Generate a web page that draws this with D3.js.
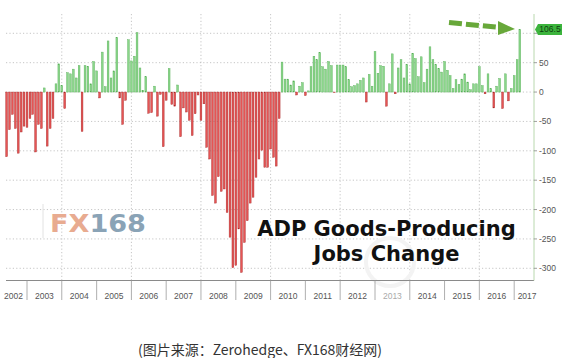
<!DOCTYPE html>
<html><head><meta charset="utf-8">
<script src="https://cdn.jsdelivr.net/npm/d3@7/dist/d3.min.js"></script>
<style>html,body{margin:0;padding:0;background:#fff;}svg{display:block}</style>
</head><body>
<svg id="c" width="568" height="358"></svg>
<script>
// ---- data (thousands, monthly, May 2002 .. Feb 2017) ----
const firstMonth = "2002-05";
const jobsChange = [
  -110, -64, -38, -62, -104, -68, -58, -60,
  -45, -38, -102, -55, -62, 7, -92, -62, -45, 14, 48, 11,
  -28, 33, 31, 39, 24, 45, -67, 45, 44, 14, 52, 36,
  -10, 68, 9, 87, 24, 36, 93, -10, -55, -14, 89, 53,
  61, 101, 41, 3, 26, -36, -35, 10, -41, -4, -93, -14,
  40, -21, -24, 12, -76, -27, -34, -48, -74, -37, -5, -48,
  -20, -94, -114, -176, -189, -144, -169, -165, -205, -247, -299, -295,
  -233, -307, -256, -219, -189, -179, -145, -114, -99, -128, -128, -97,
  -111, -126, -45, 51, 22, 22, 12, 19, -5, 10, 16, -6,
  2, 43, 61, 55, 67, 43, 39, 52, 45, -1, 46, 46,
  46, 43, 21, 9, 11, 14, 20, 24, -17, 30, 10, 69,
  32, 45, 44, -24, 14, 65, -3, 41, 55, 24, 47, 14,
  66, 57, 26, 60, 16, 39, 77, 55, 47, 40, 34, 52,
  37, 28, 6, 21, 13, 22, 31, 17, 4, 14, 14, 43,
  11, -3, 31, 6, -27, 10, 23, -28, 31, -15, 6, 28,
  55, 106.5
];
const yearLabels = [2002,2003,2004,2005,2006,2007,2008,2009,2010,2011,2012,2013,2014,2015,2016,2017];
const gridYears = [2004,2006,2008,2010,2012,2014,2016];
const yTicks = [100,50,0,-50,-100,-150,-200,-250,-300];
const yLabelTicks = [50,0,-50,-100,-150,-200,-250,-300]; // 100 is hidden under the last-value tag
const lastLabel = "106.5";
const titleLines = ["ADP Goods-Producing","Jobs Change"];
const brand = ["FX","168"];
const caption = "(图片来源：Zerohedge、FX168财经网)";

// ---- layout ----
const plotL = 6, plotR = 534, plotT = 14, axisY = 280.5;
const svg = d3.select("#c");
const parse = d3.timeParse("%Y-%m");
const start = parse(firstMonth);
const x = d3.scaleTime()
  .domain([new Date(2003,0,1), new Date(2017,0,1)])
  .range([27, 514.2]);
const y = d3.scaleLinear().domain([-300,100]).range([268.3,33.3]);

const bars = jobsChange.map((v,i)=>({date: d3.timeMonth.offset(start, i+1), v}));

// gridlines
const grid = svg.append("g").attr("stroke","#b8b8b8").attr("stroke-width",0.8).attr("stroke-dasharray","1.2,2.2");
grid.selectAll("line.h").data(yTicks).join("line")
  .attr("x1",plotL).attr("x2",plotR).attr("y1",d=>y(d)).attr("y2",d=>y(d));
grid.selectAll("line.v").data(gridYears).join("line")
  .attr("x1",d=>x(new Date(d,0,1))).attr("x2",d=>x(new Date(d,0,1)))
  .attr("y1",plotT).attr("y2",axisY);

// faint site watermark
svg.append("circle").attr("cx",390).attr("cy",262).attr("r",24)
  .attr("fill","none").attr("stroke","#f3f3f3").attr("stroke-width",4);

// watermark brand
svg.append("line").attr("x1",43).attr("x2",43).attr("y1",204).attr("y2",238)
  .attr("stroke","#e2e2e2").attr("stroke-width",1);
const bt = svg.append("text").attr("x",50).attr("y",232)
  .attr("font-family","DejaVu Sans").attr("font-weight","bold").attr("font-size",25)
  .attr("textLength",96).attr("lengthAdjust","spacingAndGlyphs");
bt.append("tspan").attr("fill","#e8ab90").text(brand[0]);
bt.append("tspan").attr("fill","#8aa3b6").text(brand[1]);

// bars
const bw = 1.8;
svg.append("g").selectAll("rect").data(bars).join("rect")
  .attr("x",d=>x(d.date)-bw/2).attr("width",bw)
  .attr("y",d=>y(Math.max(0,d.v))).attr("height",d=>Math.abs(y(d.v)-y(0)))
  .attr("fill",d=>d.v>=0?"#8ad68a":"#e65454")
  .attr("stroke",d=>d.v>=0?"#55ad55":"#a32626").attr("stroke-width",0.4);

// x axis
svg.append("line").attr("x1",plotL).attr("x2",plotR).attr("y1",axisY).attr("y2",axisY)
  .attr("stroke","#8a8a8a").attr("stroke-width",1);
const sepYears = yearLabels.slice(1);
svg.append("g").selectAll("line").data(sepYears).join("line")
  .attr("x1",d=>x(new Date(d,0,1))).attr("x2",d=>x(new Date(d,0,1)))
  .attr("y1",axisY).attr("y2",300).attr("stroke","#9a9a9a").attr("stroke-width",0.8);
svg.append("g").selectAll("text").data(yearLabels).join("text")
  .attr("x",d=>{
    const a = Math.max(0, x(new Date(d,0,1)));
    const b = Math.min(540, x(new Date(d+1,0,1)));
    return (a+b)/2;
  })
  .attr("y",299).attr("text-anchor","middle")
  .attr("font-family","Liberation Sans, Arial").attr("font-size",8.5)
  .attr("fill",d=>d===2013?"#aaa":"#555")
  .text(d=>d);

// right axis
svg.append("line").attr("x1",plotR).attr("x2",plotR).attr("y1",plotT).attr("y2",axisY)
  .attr("stroke","#b9d8ae").attr("stroke-width",1);
const ra = svg.append("g");
ra.selectAll("line").data(yTicks).join("line")
  .attr("x1",plotR).attr("x2",plotR+3).attr("y1",d=>y(d)).attr("y2",d=>y(d))
  .attr("stroke","#888").attr("stroke-width",0.8);
ra.selectAll("text").data(yLabelTicks).join("text")
  .attr("x",plotR+5).attr("y",d=>y(d)+3)
  .attr("font-family","Liberation Sans, Arial").attr("font-size",8.5).attr("fill","#555")
  .text(d=>d);

// last value tag
const lastV = jobsChange[jobsChange.length-1];
const ty = y(lastV);
svg.append("path")
  .attr("d",`M${plotR+1},${ty} L${plotR+4},${ty-5.5} L${plotR+28},${ty-5.5} L${plotR+28},${ty+5.5} L${plotR+4},${ty+5.5} Z`)
  .attr("fill","#3cb43c");
svg.append("text").attr("x",plotR+16).attr("y",ty+3).attr("text-anchor","middle")
  .attr("font-family","Liberation Sans, Arial").attr("font-size",8.5).attr("fill","#0f3f0f")
  .text(lastLabel);

// dashed arrow
svg.append("line").attr("x1",449).attr("y1",22.5).attr("x2",500).attr("y2",27.5)
  .attr("stroke","#68a83a").attr("stroke-width",5).attr("stroke-dasharray","13,4");
svg.append("path").attr("d","M498,21 L515,29 L498,35 Z").attr("fill","#68a83a");

// title
const tt = svg.append("g").attr("font-family","DejaVu Sans").attr("font-weight","bold")
  .attr("font-size",21).attr("fill","#111").attr("text-anchor","middle");
tt.append("text").attr("x",386.5).attr("y",236).text(titleLines[0]);
tt.append("text").attr("x",386.5).attr("y",261).text(titleLines[1]);

// caption
svg.append("text").attr("x",260).attr("y",355).attr("text-anchor","middle")
  .attr("font-family","Noto Sans CJK SC").attr("font-size",14).attr("fill","#333")
  .text(caption);
</script>
</body></html>
